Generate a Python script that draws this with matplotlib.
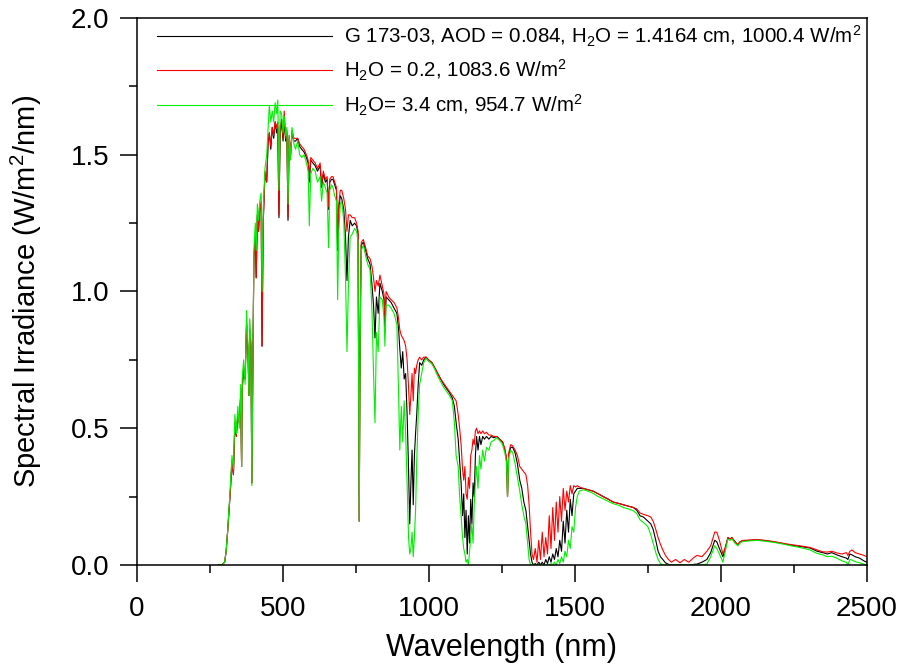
import matplotlib
matplotlib.use('Agg')
import matplotlib.pyplot as plt
from matplotlib.ticker import MultipleLocator, FormatStrFormatter

# spectral irradiance (W/m2/nm), common wavelength grid (nm)
wavelength = [
    280, 290, 300, 305, 310, 315, 320, 325, 330, 335,
    340, 345, 350, 355, 358, 360, 365, 370, 375, 380,
    383, 386, 390, 393, 396, 400, 405, 408, 412, 416,
    420, 425, 428, 432, 438, 444, 449, 453, 458, 463,
    468, 473, 478, 482, 486, 490, 495, 500, 504, 509,
    513, 517, 521, 526, 531, 537, 543, 550, 557, 564,
    572, 580, 586, 590, 595, 602, 610, 618, 627, 632,
    638, 645, 651, 656, 660, 666, 671, 677, 683, 687,
    691, 696, 701, 708, 714, 719, 724, 730, 737, 745,
    752, 757, 761, 764, 768, 775, 783, 790, 798, 805,
    810, 815, 820, 826, 832, 840, 846, 849, 853, 862,
    870, 880, 890, 896, 900, 905, 910, 915, 920, 925,
    930, 934, 938, 942, 946, 950, 954, 958, 963, 968,
    975, 982, 990, 998, 1010, 1020, 1030, 1040, 1050, 1060,
    1070, 1080, 1087, 1093, 1100, 1105, 1110, 1115, 1119, 1123,
    1127, 1131, 1135, 1139, 1143, 1147, 1151, 1155, 1159, 1163,
    1168, 1173, 1178, 1184, 1190, 1197, 1205, 1213, 1222, 1232,
    1242, 1252, 1260, 1266, 1269, 1273, 1280, 1287, 1295, 1303,
    1311, 1318, 1325, 1332, 1338, 1343, 1348, 1353, 1358, 1364,
    1370, 1376, 1382, 1388, 1394, 1400, 1406, 1412, 1418, 1424,
    1430, 1436, 1442, 1448, 1454, 1460, 1466, 1472, 1478, 1484,
    1490, 1496, 1502, 1508, 1515, 1528, 1545, 1562, 1580, 1597,
    1615, 1631, 1650, 1666, 1683, 1700, 1712, 1723, 1735, 1750,
    1760, 1768, 1777, 1785, 1793, 1801, 1810, 1819, 1830, 1845,
    1860, 1875, 1890, 1905, 1918, 1935, 1952, 1965, 1979, 1986,
    1995, 2007, 2015, 2024, 2031, 2038, 2048, 2058, 2066, 2075,
    2100, 2123, 2150, 2178, 2205, 2236, 2270, 2305, 2330, 2349,
    2365, 2380, 2397, 2415, 2430, 2435, 2442, 2449, 2460, 2475,
    2490, 2500,
]

# G 173-03 reference spectrum
g173 = [
    0, 0, 0.01, 0.05, 0.12, 0.20, 0.28, 0.38, 0.33, 0.52,
    0.47, 0.55, 0.52, 0.62, 0.36, 0.64, 0.72, 0.68, 0.88, 0.78,
    0.62, 0.86, 0.80, 0.30, 0.65, 1.12, 1.20, 1.05, 1.28, 1.22,
    1.30, 1.32, 0.80, 1.25, 1.43, 1.40, 1.55, 1.58, 1.52, 1.60,
    1.56, 1.62, 1.58, 1.60, 1.27, 1.58, 1.62, 1.55, 1.62, 1.55,
    1.58, 1.26, 1.56, 1.50, 1.58, 1.55, 1.55, 1.56, 1.53, 1.52,
    1.51, 1.49, 1.47, 1.40, 1.48, 1.47, 1.46, 1.44, 1.46, 1.38,
    1.43, 1.40, 1.41, 1.30, 1.40, 1.41, 1.41, 1.39, 1.37, 1.15,
    1.30, 1.35, 1.34, 1.30, 1.20, 1.04, 1.20, 1.26, 1.24, 1.25,
    1.24, 1.21, 0.16, 0.85, 1.17, 1.18, 1.15, 1.12, 1.10, 1.02,
    0.95, 0.83, 0.98, 0.92, 1.03, 1.00, 0.97, 0.85, 0.98, 0.97,
    0.96, 0.94, 0.92, 0.86, 0.79, 0.72, 0.78, 0.68, 0.70, 0.55,
    0.35, 0.15, 0.30, 0.42, 0.22, 0.40, 0.48, 0.55, 0.66, 0.74,
    0.73, 0.75, 0.76, 0.75, 0.74, 0.72, 0.70, 0.68, 0.66, 0.645,
    0.63, 0.61, 0.58, 0.52, 0.46, 0.38, 0.30, 0.18, 0.26, 0.10,
    0.20, 0.04, 0.18, 0.08, 0.24, 0.15, 0.30, 0.25, 0.40, 0.47,
    0.42, 0.47, 0.44, 0.47, 0.46, 0.47, 0.46, 0.47, 0.465, 0.47,
    0.46, 0.45, 0.42, 0.38, 0.25, 0.40, 0.43, 0.43, 0.41, 0.37,
    0.31, 0.28, 0.23, 0.20, 0.14, 0.09, 0.04, 0.01, 0.0, 0.005,
    0.0, 0.01, 0.0, 0.01, 0.0, 0.02, 0.005, 0.03, 0.01, 0.04,
    0.02, 0.06, 0.03, 0.09, 0.05, 0.16, 0.08, 0.20, 0.12, 0.24,
    0.18, 0.26, 0.27, 0.28, 0.28, 0.28, 0.275, 0.27, 0.26, 0.25,
    0.24, 0.23, 0.225, 0.22, 0.215, 0.21, 0.20, 0.18, 0.175, 0.16,
    0.15, 0.13, 0.09, 0.05, 0.03, 0.02, 0.008, 0.003, 0.0, 0.0,
    0.0, 0.0, 0.0, 0.002, 0.003, 0.01, 0.02, 0.045, 0.09, 0.085,
    0.06, 0.03, 0.06, 0.10, 0.095, 0.10, 0.085, 0.073, 0.085, 0.088,
    0.09, 0.092, 0.089, 0.085, 0.08, 0.073, 0.068, 0.062, 0.05, 0.045,
    0.04, 0.045, 0.037, 0.03, 0.025, 0.02, 0.04, 0.037, 0.03, 0.025,
    0.015, 0.01,
]

# H2O = 0.2 cm
dry = [
    0, 0, 0.01, 0.05, 0.12, 0.20, 0.28, 0.38, 0.33, 0.52,
    0.47, 0.55, 0.52, 0.62, 0.36, 0.64, 0.72, 0.68, 0.88, 0.78,
    0.62, 0.86, 0.80, 0.30, 0.65, 1.12, 1.20, 1.05, 1.28, 1.22,
    1.30, 1.33, 0.80, 1.25, 1.44, 1.40, 1.56, 1.58, 1.53, 1.60,
    1.57, 1.62, 1.60, 1.62, 1.28, 1.60, 1.63, 1.56, 1.66, 1.56,
    1.59, 1.27, 1.57, 1.51, 1.59, 1.56, 1.56, 1.56, 1.54, 1.53,
    1.52, 1.50, 1.48, 1.42, 1.49, 1.48, 1.47, 1.45, 1.47, 1.39,
    1.44, 1.41, 1.42, 1.31, 1.41, 1.42, 1.42, 1.40, 1.38, 1.16,
    1.32, 1.37, 1.37, 1.34, 1.30, 1.22, 1.28, 1.28, 1.27, 1.27,
    1.25, 1.22, 0.16, 0.85, 1.18, 1.19, 1.16, 1.13, 1.12, 1.09,
    1.05, 1.00, 1.04, 1.02, 1.06, 1.02, 0.99, 0.90, 1.00, 0.98,
    0.97, 0.96, 0.94, 0.90, 0.86, 0.84, 0.83, 0.82, 0.80, 0.75,
    0.65, 0.55, 0.62, 0.70, 0.60, 0.72, 0.70, 0.73, 0.75, 0.76,
    0.75, 0.76, 0.76, 0.75, 0.74, 0.72, 0.70, 0.68, 0.665, 0.65,
    0.635, 0.62, 0.61, 0.60, 0.55, 0.50, 0.44, 0.35, 0.31, 0.36,
    0.26, 0.24, 0.32, 0.28, 0.40, 0.42, 0.46, 0.44, 0.49, 0.50,
    0.48, 0.49, 0.48, 0.49, 0.48, 0.485, 0.475, 0.475, 0.47, 0.47,
    0.46, 0.45, 0.425, 0.39, 0.25, 0.41, 0.44, 0.435, 0.42, 0.40,
    0.36, 0.35, 0.34, 0.33, 0.29, 0.22, 0.12, 0.04, 0.02, 0.06,
    0.01, 0.09, 0.02, 0.12, 0.03, 0.10, 0.04, 0.18, 0.06, 0.21,
    0.09, 0.23, 0.12, 0.25, 0.16, 0.28, 0.20, 0.27, 0.23, 0.29,
    0.26, 0.29, 0.285, 0.29, 0.285, 0.28, 0.275, 0.27, 0.26, 0.25,
    0.24, 0.23, 0.225, 0.22, 0.215, 0.21, 0.205, 0.19, 0.185, 0.18,
    0.175, 0.16, 0.13, 0.10, 0.075, 0.055, 0.035, 0.022, 0.01, 0.02,
    0.008, 0.02, 0.01, 0.025, 0.035, 0.03, 0.05, 0.07, 0.12, 0.12,
    0.09, 0.04, 0.065, 0.10, 0.095, 0.10, 0.085, 0.075, 0.085, 0.09,
    0.091, 0.093, 0.09, 0.086, 0.081, 0.075, 0.07, 0.064, 0.055, 0.048,
    0.047, 0.05, 0.044, 0.04, 0.045, 0.035, 0.05, 0.055, 0.045, 0.04,
    0.035, 0.03,
]

# H2O = 3.4 cm
wet = [
    0, 0, 0.01, 0.05, 0.12, 0.21, 0.30, 0.40, 0.35, 0.55,
    0.48, 0.58, 0.50, 0.66, 0.36, 0.68, 0.75, 0.66, 0.93, 0.80,
    0.62, 0.90, 0.82, 0.29, 0.62, 1.15, 1.25, 1.15, 1.32, 1.26,
    1.33, 1.36, 1.00, 1.30, 1.45, 1.50, 1.60, 1.68, 1.62, 1.66,
    1.62, 1.69, 1.65, 1.70, 1.37, 1.66, 1.65, 1.58, 1.64, 1.57,
    1.60, 1.32, 1.57, 1.48, 1.60, 1.54, 1.52, 1.55, 1.50, 1.49,
    1.50, 1.47, 1.44, 1.24, 1.43, 1.45, 1.44, 1.40, 1.42, 1.33,
    1.40, 1.38, 1.36, 1.16, 1.37, 1.39, 1.38, 1.35, 1.33, 0.97,
    1.22, 1.32, 1.33, 1.26, 1.05, 0.78, 1.02, 1.20, 1.21, 1.23,
    1.22, 1.18, 0.16, 0.82, 1.15, 1.17, 1.13, 1.10, 1.08, 0.92,
    0.70, 0.52, 0.85, 0.78, 0.98, 0.97, 0.90, 0.80, 0.95, 0.95,
    0.94, 0.92, 0.88, 0.62, 0.42, 0.58, 0.45, 0.60, 0.48, 0.30,
    0.10, 0.04, 0.06, 0.12, 0.03, 0.10, 0.20, 0.38, 0.55, 0.66,
    0.70, 0.74, 0.755, 0.745, 0.735, 0.715, 0.69, 0.67, 0.65, 0.635,
    0.62, 0.60, 0.52, 0.40, 0.36, 0.25, 0.18, 0.10, 0.06, 0.04,
    0.01, 0.02, 0.0, 0.05, 0.10, 0.15, 0.08, 0.22, 0.30, 0.36,
    0.28, 0.40, 0.35, 0.42, 0.38, 0.43, 0.42, 0.45, 0.455, 0.465,
    0.455, 0.44, 0.41, 0.37, 0.25, 0.39, 0.42, 0.41, 0.37, 0.32,
    0.27, 0.22, 0.18, 0.15, 0.08, 0.02, 0.0, 0.0, 0.0, 0.0,
    0.0, 0.0, 0.0, 0.0, 0.0, 0.0, 0.0, 0.0, 0.005, 0.0,
    0.01, 0.0, 0.02, 0.005, 0.03, 0.01, 0.05, 0.03, 0.09, 0.06,
    0.14, 0.12, 0.21, 0.25, 0.27, 0.275, 0.27, 0.262, 0.25, 0.242,
    0.232, 0.224, 0.218, 0.21, 0.205, 0.198, 0.188, 0.165, 0.155, 0.14,
    0.11, 0.08, 0.045, 0.02, 0.005, 0.0, 0.0, 0.0, 0.0, 0.0,
    0.0, 0.0, 0.0, 0.0, 0.0, 0.0, 0.003, 0.03, 0.07, 0.06,
    0.04, 0.01, 0.05, 0.095, 0.09, 0.095, 0.08, 0.07, 0.08, 0.086,
    0.088, 0.09, 0.087, 0.083, 0.078, 0.071, 0.064, 0.055, 0.042, 0.037,
    0.03, 0.032, 0.025, 0.015, 0.01, 0.0, 0.02, 0.018, 0.012, 0.008,
    0.003, 0.0,
]

labels = [
    'G 173-03, AOD = 0.084, H$_2$O = 1.4164 cm, 1000.4 W/m$^2$',
    'H$_2$O = 0.2, 1083.6 W/m$^2$',
    'H$_2$O= 3.4 cm, 954.7 W/m$^2$',
]
colors = ['black', '#ff0000', '#00f000']

plt.rcParams['mathtext.default'] = 'regular'
plt.rcParams['font.family'] = ['Liberation Sans', 'DejaVu Sans']

fig = plt.figure(figsize=(9.02, 6.67), dpi=100)
ax = fig.add_axes([0.152, 0.153, 0.809, 0.820])

for y, c, lab in zip([g173, dry, wet], colors, labels):
    ax.plot(wavelength, y, color=c, lw=0.8, label=lab)

ax.set_xlim(0, 2500)
ax.set_ylim(0, 2.0)
ax.xaxis.set_major_locator(MultipleLocator(500))
ax.xaxis.set_minor_locator(MultipleLocator(250))
ax.yaxis.set_major_locator(MultipleLocator(0.5))
ax.yaxis.set_minor_locator(MultipleLocator(0.25))
ax.yaxis.set_major_formatter(FormatStrFormatter('%.1f'))

for s in ax.spines.values():
    s.set_linewidth(1.1)
ax.tick_params(which='major', direction='out', length=12, width=1.1)
ax.tick_params(which='minor', direction='out', length=6, width=1.1)
ax.tick_params(axis='x', which='major', labelsize=20, pad=10)
ax.tick_params(axis='y', which='major', labelsize=20, pad=8)

ax.set_xlabel('Wavelength (nm)', fontsize=22, labelpad=8)
ax.set_ylabel('Spectral Irradiance (W/m$^2$/nm)', fontsize=21, labelpad=19)

ax.legend(loc='upper left', bbox_to_anchor=(0.027, 0.99), frameon=False,
          prop={'size': 14.8}, handlelength=8.5, handletextpad=0.6,
          labelspacing=0.45, borderpad=0, borderaxespad=0)

fig.savefig('out.png', dpi=100)
